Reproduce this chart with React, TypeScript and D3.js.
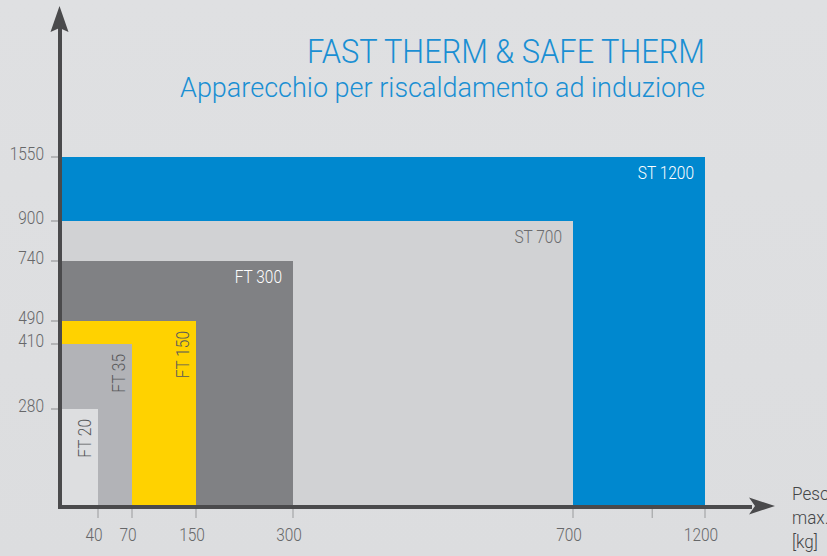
import React from "react";
import * as d3 from "d3";

// ---- data ----
const models = ["ST 1200", "ST 700", "FT 300", "FT 150", "FT 35", "FT 20"];
const maxWeight = [1200, 700, 300, 150, 70, 40];
const maxHeight = [1550, 900, 740, 490, 410, 280];
const xTickValues = [40, 70, 150, 300, 700, 1000, 1200];
const xTickLabels = ["40", "70", "150", "300", "700", "", "1200"];
const yTickValues = [280, 410, 490, 740, 900, 1550];
const yTickLabels = ["280", "410", "490", "740", "900", "1550"];
const titleText = "FAST THERM & SAFE THERM";
const subtitleText = "Apparecchio per riscaldamento ad induzione";
const xAxisTitle = ["Peso", "max.", "[kg]"];

// ---- styles ----
const fills = ["#0088cf", "#d1d2d4", "#808184", "#ffd200", "#b2b3b7", "#dddee0"];
const labelColors = ["#ffffff", "#6a6b6d", "#ffffff", "#58595b", "#58595b", "#58595b"];
const FONT = "Roboto, 'Liberation Sans', sans-serif";
const AXIS = "#4a4a4c";

type TProps = {
  x: number;
  y: number;
  anchor?: "start" | "middle" | "end";
  rotate?: number;
  size: number;
  fill: string;
  sx?: number;
  children: React.ReactNode;
};

function CText({ x, y, anchor = "start", rotate, size, fill, sx = 0.86, children }: TProps) {
  return (
    <g transform={`translate(${x},${y})${rotate ? ` rotate(${rotate})` : ""} scale(${sx},1)`}>
      <text textAnchor={anchor} fontSize={size} fill={fill} fontWeight={300}>
        {children}
      </text>
    </g>
  );
}

export default function App() {
  const W = 827;
  const H = 556;
  // piecewise (non-uniform) axes as in the original drawing
  const x = d3
    .scaleLinear()
    .domain([0, 40, 70, 150, 300, 700, 1200])
    .range([62, 98, 132, 196, 293, 573, 705]);
  const y = d3
    .scaleLinear()
    .domain([0, 280, 410, 490, 740, 900, 1550])
    .range([505, 409, 344, 321, 261, 221, 157]);

  const axisX = 60;
  const axisY = 507;

  return (
    <svg
      width={W}
      height={H}
      style={{ position: "absolute", left: 0, top: 0, display: "block" }}
      fontFamily={FONT}
    >
      <defs>
        <linearGradient id="bg" x1="0" y1="0" x2="0" y2="1">
          <stop offset="0" stopColor="#dfe0e2" />
          <stop offset="1" stopColor="#dcdddf" />
        </linearGradient>
      </defs>
      <rect x={0} y={0} width={W} height={H} fill="url(#bg)" />

      {/* title */}
      <text
        x={705}
        y={63}
        textAnchor="end"
        fontSize={34}
        fontWeight={300}
        fill="#1a8fd3"
        textLength={398}
        lengthAdjust="spacingAndGlyphs"
      >
        {titleText}
      </text>
      <text
        x={705}
        y={97}
        textAnchor="end"
        fontSize={27}
        fontWeight={300}
        fill="#1a8fd3"
        textLength={525}
        lengthAdjust="spacingAndGlyphs"
      >
        {subtitleText}
      </text>

      {/* rectangles */}
      {models.map((m, i) => (
        <rect
          key={m}
          x={x(0)}
          y={y(maxHeight[i])}
          width={x(maxWeight[i]) - x(0)}
          height={y(0) - y(maxHeight[i])}
          fill={fills[i]}
        />
      ))}

      {/* labels */}
      {models.map((m, i) => {
        const right = x(maxWeight[i]);
        const top = y(maxHeight[i]);
        const narrow = right - x(0) < 140;
        return narrow ? (
          <CText
            key={m + "-l"}
            x={right - 7}
            y={top + 10}
            rotate={-90}
            anchor="end"
            size={18}
            fill={labelColors[i]}
          >
            {m}
          </CText>
        ) : (
          <CText
            key={m + "-l"}
            x={right - 11}
            y={top + 22}
            anchor="end"
            size={18}
            fill={labelColors[i]}
          >
            {m}
          </CText>
        );
      })}

      {/* y ticks */}
      {yTickValues.map((v, i) => (
        <g key={"yt" + v}>
          <line x1={51} x2={58} y1={y(v)} y2={y(v)} stroke="#8a8b8d" strokeWidth={1} />
          <CText x={44} y={y(v) + 3} anchor="end" size={18} fill="#666769">
            {yTickLabels[i]}
          </CText>
        </g>
      ))}

      {/* x ticks */}
      {xTickValues.map((v, i) => (
        <g key={"xt" + v}>
          <line x1={x(v)} x2={x(v)} y1={509} y2={518} stroke="#9a9b9d" strokeWidth={1} />
          <CText x={x(v) - 4} y={541} anchor="middle" size={18} fill="#666769">
            {xTickLabels[i]}
          </CText>
        </g>
      ))}

      {/* axes */}
      <line x1={axisX} x2={axisX} y1={28} y2={509} stroke={AXIS} strokeWidth={4} />
      <line x1={58} x2={752} y1={axisY} y2={axisY} stroke={AXIS} strokeWidth={4} />
      <path
        d={`M${axisX - 0.5},6 L${axisX + 8.5},32 L${axisX - 0.5},28 L${axisX - 9.5},32 Z`}
        fill={AXIS}
      />
      <path
        d={`M775,${axisY - 1} L749,${axisY - 9.5} L755,${axisY - 1} L749,${axisY + 7.5} Z`}
        fill={AXIS}
      />

      {/* x axis title */}
      {xAxisTitle.map((t, i) => (
        <CText key={t} x={792} y={500 + i * 24} size={19} sx={0.9} fill="#444547">
          {t}
        </CText>
      ))}
    </svg>
  );
}
